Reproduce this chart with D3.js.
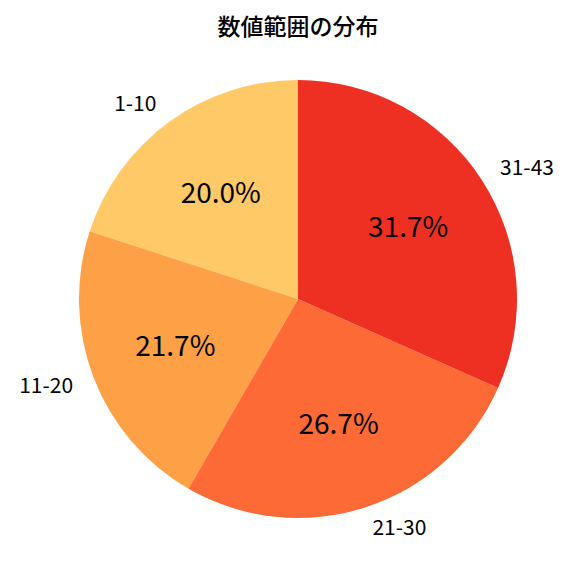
<!DOCTYPE html>
<html>
<head>
<meta charset="utf-8">
<script src="https://cdn.jsdelivr.net/npm/d3@7"></script>
<style>
  body { margin: 0; background: #fff; }
  text { font-family: "Noto Sans CJK JP", "Noto Sans", sans-serif; }
</style>
</head>
<body>
<svg></svg>
<script>
// chart data
var categories = ['1-10', '11-20', '21-30', '31-43'];
var counts = [12, 13, 16, 19];
var colors = ['#fec966', '#fda046', '#fd6a35', '#ee3023'];
var title = '数値範囲の分布';

var width = 576, height = 576;
var cx = 298, cy = 299, radius = 219;

var svg = d3.select('svg')
    .attr('width', width)
    .attr('height', height);

svg.append('text')
    .attr('x', 298)
    .attr('y', 35)
    .attr('text-anchor', 'middle')
    .style('font-size', '23px')
    .style('font-weight', '500')
    .text(title);

var total = d3.sum(counts);
var data = categories.map(function (c, i) {
    return {label: c, value: counts[i], color: colors[i]};
});

// counterclockwise from 12 o'clock, like matplotlib startangle=90
var pie = d3.pie()
    .sort(null)
    .value(d => d.value)
    .startAngle(0)
    .endAngle(-2 * Math.PI);

var arcs = pie(data);
var arc = d3.arc().innerRadius(0).outerRadius(radius);

var g = svg.append('g')
    .attr('transform', `translate(${cx},${cy})`);

g.selectAll('path')
    .data(arcs)
    .enter()
    .append('path')
    .attr('d', arc)
    .attr('fill', d => d.data.color);

function midPoint(d, r) {
    var a = (d.startAngle + d.endAngle) / 2;
    return [r * Math.sin(a), -r * Math.cos(a)];
}

g.selectAll('.label')
    .data(arcs)
    .enter()
    .append('text')
    .attr('class', 'label')
    .attr('x', d => midPoint(d, radius * 1.1)[0])
    .attr('y', d => midPoint(d, radius * 1.1)[1])
    .attr('dy', '0.35em')
    .attr('text-anchor', d => midPoint(d, 1)[0] < 0 ? 'end' : 'start')
    .style('font-size', '21px')
    .text(d => d.data.label);

g.selectAll('.pct')
    .data(arcs)
    .enter()
    .append('text')
    .attr('class', 'pct')
    .attr('x', d => midPoint(d, radius * 0.6)[0])
    .attr('y', d => midPoint(d, radius * 0.6)[1])
    .attr('dy', '0.35em')
    .attr('text-anchor', 'middle')
    .style('font-size', '28px')
    .text(d => (d.data.value / total * 100).toFixed(1) + '%');
</script>
</body>
</html>
